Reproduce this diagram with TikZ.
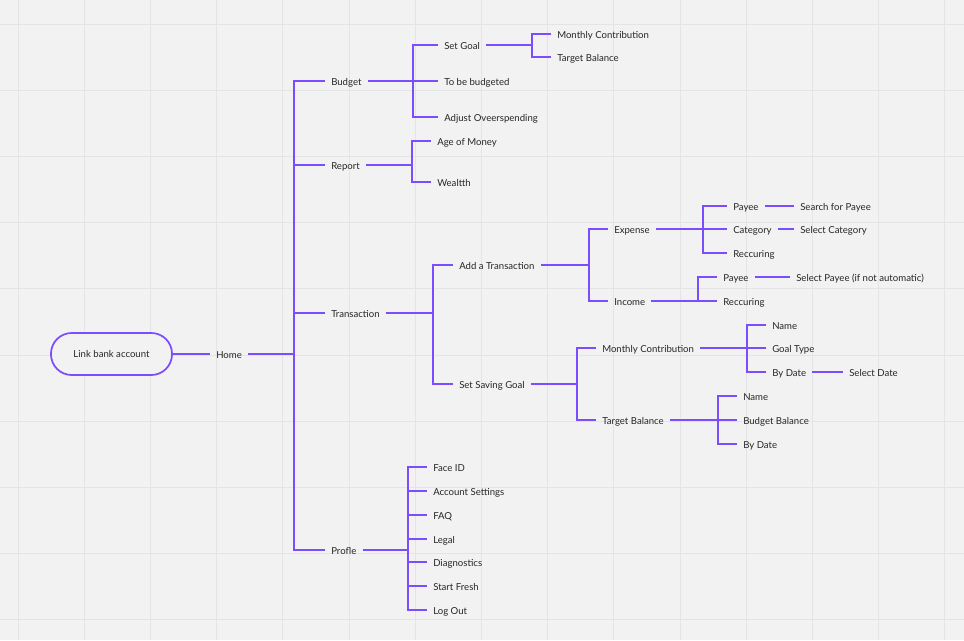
\documentclass[tikz,border=0pt]{standalone}
\usepackage{fontspec}
\setmainfont{Lato}
\definecolor{bg}{HTML}{F2F2F2}
\definecolor{gridc}{HTML}{E4E4E4}
\definecolor{vio}{HTML}{7C4DFF}
\definecolor{ink}{HTML}{262626}
\begin{document}
\begin{tikzpicture}[x=0.75pt,y=-0.75pt,
  lbl/.style={font=\fontsize{7.2}{8}\selectfont, text=ink, anchor=west, inner xsep=4.5pt, inner ysep=0pt, text height=0.72em, text depth=0pt},
  pill/.style={draw=vio, fill=bg, line width=1.3pt, rounded corners=15.5pt, minimum width=90.75pt, minimum height=31.5pt, font=\fontsize{7.2}{8}\selectfont, text=ink},
  conn/.style={draw=vio, line width=1.5pt}]
\fill[bg] (0,0) rectangle (964,640);
\useasboundingbox (0,0) rectangle (964,640);
\foreach \i in {0,...,14} \draw[gridc, line width=0.75pt] ({18+66.2*\i},0) -- ({18+66.2*\i},640);
\foreach \i in {0,...,9} \draw[gridc, line width=0.75pt] (0,{24+66.2*\i}) -- (964,{24+66.2*\i});

% nodes
\node[pill] (link) at (111.5,354) {Link bank account};
\node[lbl] (home) at (210,354) {Home};
\node[lbl] (budget) at (325,81) {Budget};
\node[lbl] (setgoal) at (438,45) {Set Goal};
\node[lbl] (tobe) at (438,81) {To be budgeted};
\node[lbl] (adjust) at (438,117) {Adjust Oveerspending};
\node[lbl] (mc1) at (551,34) {Monthly Contribution};
\node[lbl] (tb1) at (551,57) {Target Balance};
\node[lbl] (report) at (325,165) {Report};
\node[lbl] (age) at (431,141) {Age of Money};
\node[lbl] (wealth) at (431,182) {Wealtth};
\node[lbl] (trans) at (325,313) {Transaction};
\node[lbl] (addtx) at (453,265) {Add a Transaction};
\node[lbl] (saving) at (453,384) {Set Saving Goal};
\node[lbl] (expense) at (608,229) {Expense};
\node[lbl] (income) at (608,301) {Income};
\node[lbl] (payee1) at (727,206) {Payee};
\node[lbl] (cat) at (727,229) {Category};
\node[lbl] (rec1) at (727,253) {Reccuring};
\node[lbl] (search) at (794,206) {Search for Payee};
\node[lbl] (selcat) at (794,229) {Select Category};
\node[lbl] (payee2) at (717,277) {Payee};
\node[lbl] (rec2) at (717,301) {Reccuring};
\node[lbl] (selpay) at (790,277) {Select Payee (if not automatic)};
\node[lbl] (mc2) at (596,348) {Monthly Contribution};
\node[lbl] (tb2) at (596,420) {Target Balance};
\node[lbl] (name1) at (766,325) {Name};
\node[lbl] (gtype) at (766,348) {Goal Type};
\node[lbl] (bydate1) at (766,372) {By Date};
\node[lbl] (seldate) at (843,372) {Select Date};
\node[lbl] (name2) at (737,396) {Name};
\node[lbl] (budbal) at (737,420) {Budget Balance};
\node[lbl] (bydate2) at (737,444) {By Date};
\node[lbl] (profile) at (325,550) {Profle};
\node[lbl] (face) at (427,467) {Face ID};
\node[lbl] (acct) at (427,491) {Account Settings};
\node[lbl] (faq) at (427,515) {FAQ};
\node[lbl] (legal) at (427,539) {Legal};
\node[lbl] (diag) at (427,562) {Diagnostics};
\node[lbl] (fresh) at (427,586) {Start Fresh};
\node[lbl] (logout) at (427,610) {Log Out};

% bracket junctions
\coordinate (jHome) at (294,354);
\coordinate (jBudget) at (413,81);
\coordinate (jSetGoal) at (532,45);
\coordinate (jReport) at (412,165);
\coordinate (jTrans) at (433,313);
\coordinate (jAdd) at (589,265);
\coordinate (jExp) at (703,229);
\coordinate (jInc) at (698,301);
\coordinate (jSave) at (577,384);
\coordinate (jMC) at (747,348);
\coordinate (jTB) at (718,420);
\coordinate (jProf) at (408,550);

% connectors
\draw[conn] (link.east) -- (home.west);
\draw[conn] (home.east) -- (jHome);
\foreach \c in {budget,report,trans,profile} \draw[conn] (\c.west) -| (jHome);
\draw[conn] (budget.east) -- (jBudget);
\foreach \c in {setgoal,tobe,adjust} \draw[conn] (\c.west) -| (jBudget);
\draw[conn] (setgoal.east) -- (jSetGoal);
\foreach \c in {mc1,tb1} \draw[conn] (\c.west) -| (jSetGoal);
\draw[conn] (report.east) -- (jReport);
\foreach \c in {age,wealth} \draw[conn] (\c.west) -| (jReport);
\draw[conn] (trans.east) -- (jTrans);
\foreach \c in {addtx,saving} \draw[conn] (\c.west) -| (jTrans);
\draw[conn] (addtx.east) -- (jAdd);
\foreach \c in {expense,income} \draw[conn] (\c.west) -| (jAdd);
\draw[conn] (expense.east) -- (jExp);
\foreach \c in {payee1,cat,rec1} \draw[conn] (\c.west) -| (jExp);
\draw[conn] (payee1.east) -- (search.west);
\draw[conn] (cat.east) -- (selcat.west);
\draw[conn] (income.east) -- (jInc);
\foreach \c in {payee2,rec2} \draw[conn] (\c.west) -| (jInc);
\draw[conn] (payee2.east) -- (selpay.west);
\draw[conn] (saving.east) -- (jSave);
\foreach \c in {mc2,tb2} \draw[conn] (\c.west) -| (jSave);
\draw[conn] (mc2.east) -- (jMC);
\foreach \c in {name1,gtype,bydate1} \draw[conn] (\c.west) -| (jMC);
\draw[conn] (bydate1.east) -- (seldate.west);
\draw[conn] (tb2.east) -- (jTB);
\foreach \c in {name2,budbal,bydate2} \draw[conn] (\c.west) -| (jTB);
\draw[conn] (profile.east) -- (jProf);
\foreach \c in {face,acct,faq,legal,diag,fresh,logout} \draw[conn] (\c.west) -| (jProf);
\end{tikzpicture}
\end{document}
